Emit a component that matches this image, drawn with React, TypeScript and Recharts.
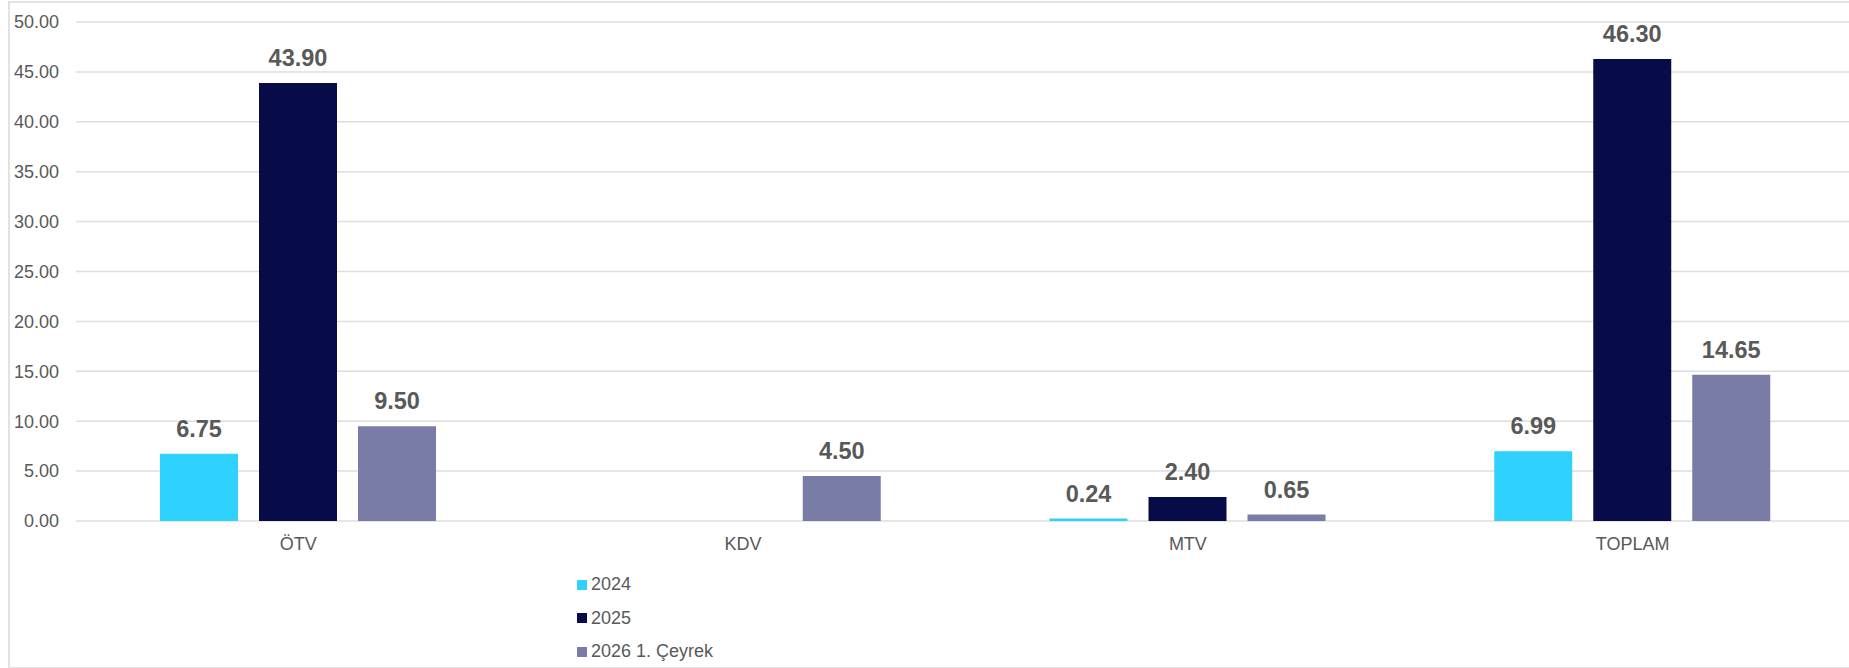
import React from "react";
import { BarChart, Bar, XAxis, YAxis, CartesianGrid, LabelList, Legend } from "recharts";

const categories = ["ÖTV", "KDV", "MTV", "TOPLAM"];
const values2024: (number | null)[] = [6.75, null, 0.24, 6.99];
const values2025: (number | null)[] = [43.9, null, 2.4, 46.3];
const values2026: (number | null)[] = [9.5, 4.5, 0.65, 14.65];
const seriesNames = ["2024", "2025", "2026 1. Çeyrek"];
const seriesColors = ["#2FD2FF", "#070B47", "#7A7CA8"];
const yTicks = [0, 5, 10, 15, 20, 25, 30, 35, 40, 45, 50];

const data = categories.map((c, i) => ({
  name: c,
  s2024: values2024[i],
  s2025: values2025[i],
  s2026: values2026[i],
}));
const keys = ["s2024", "s2025", "s2026"];

const FONT = "'Liberation Sans', Arial, sans-serif";
const TEXT = "#595959";

const LegendContent = (props: any) => {
  const { payload } = props;
  return (
    <div style={{ fontFamily: FONT, fontSize: 18, color: TEXT }}>
      {(payload || []).map((p: any, i: number) => (
        <div key={i} style={{ display: "flex", alignItems: "center", height: 33.5 }}>
          <span style={{ display: "inline-block", width: 10, height: 10, background: p.color, marginRight: 4 }} />
          <span>{p.value}</span>
        </div>
      ))}
    </div>
  );
};

export default function App() {
  return (
    <div style={{ position: "absolute", left: 0, top: 0, width: 1849, height: 668, overflow: "hidden", background: "#fff" }}>
      <div style={{ position: "absolute", left: 8, top: 1, width: 1900, height: 664, border: "2px solid #E2E2E2" }} />
      <div style={{ position: "absolute", left: 0, top: 0 }}>
        <BarChart
          width={1860}
          height={668}
          data={data}
          margin={{ top: 22, right: 5, bottom: 117, left: 0 }}
          barSize={78}
          barGap={21}
        >
          <CartesianGrid horizontal vertical={false} stroke="#DEDEDE" strokeWidth={1.5} />
          <XAxis
            dataKey="name"
            axisLine={false}
            tickLine={false}
            height={30}
            tickMargin={10}
            tick={{ fill: TEXT, fontSize: 18, fontFamily: FONT }}
          />
          <YAxis
            domain={[0, 50]}
            ticks={yTicks}
            interval={0}
            width={76}
            axisLine={false}
            tickLine={false}
            tickMargin={11}
            tickFormatter={(v: number) => v.toFixed(2)}
            tick={{ fill: TEXT, fontSize: 18, fontFamily: FONT }}
          />
          <Legend
            layout="vertical"
            align="center"
            verticalAlign="middle"
            wrapperStyle={{ left: 577, top: 568, width: 300 }}
            content={<LegendContent />}
          />
          {keys.map((k, i) => (
            <Bar key={k} dataKey={k} name={seriesNames[i]} fill={seriesColors[i]} isAnimationActive={false}>
              <LabelList
                dataKey={k}
                position="top"
                offset={17}
                formatter={(v: any) => (v == null ? "" : Number(v).toFixed(2))}
                style={{ fill: TEXT, fontSize: 23.5, fontWeight: 700, fontFamily: FONT }}
              />
            </Bar>
          ))}
        </BarChart>
      </div>
    </div>
  );
}
